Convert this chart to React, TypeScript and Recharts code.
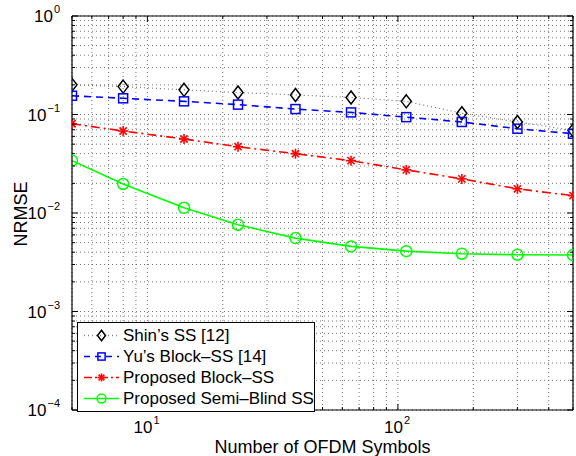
import React from 'react';
import { LineChart, Line, XAxis, YAxis, CartesianGrid, Legend } from 'recharts';

// number of OFDM symbols (x, log scale)
const symbols = [5, 8, 14, 23, 39, 65, 108, 180, 300, 500];

// NRMSE per method
const shinSS = [0.2, 0.192, 0.178, 0.167, 0.158, 0.149, 0.136, 0.103, 0.084, 0.069];
const yuBlockSS = [0.155, 0.146, 0.136, 0.126, 0.1135, 0.105, 0.094, 0.084, 0.0717, 0.0638];
const proposedBlockSS = [0.0806, 0.068, 0.0564, 0.0471, 0.04, 0.034, 0.0274, 0.0222, 0.0176, 0.015];
const proposedSemiBlind = [0.034, 0.0197, 0.0113, 0.0076, 0.00556, 0.00458, 0.0041, 0.00386, 0.00377, 0.00374];

// axis ticks (majors get a label, every tick gets a grid line)
const xTicks = [5, 6, 7, 8, 9, 10, 20, 30, 40, 50, 60, 70, 80, 90, 100, 200, 300, 400, 500];
const xMajor = [10, 100];
const yTicks = [
  0.0001, 0.0002, 0.0003, 0.0004, 0.0005, 0.0006, 0.0007, 0.0008, 0.0009,
  0.001, 0.002, 0.003, 0.004, 0.005, 0.006, 0.007, 0.008, 0.009,
  0.01, 0.02, 0.03, 0.04, 0.05, 0.06, 0.07, 0.08, 0.09,
  0.1, 0.2, 0.3, 0.4, 0.5, 0.6, 0.7, 0.8, 0.9, 1,
];
const yMajor = [0.0001, 0.001, 0.01, 0.1, 1];

const seriesNames = ['Shin’s SS [12]', 'Yu’s Block–SS [14]', 'Proposed Block–SS', 'Proposed Semi–Blind SS'];

const data = symbols.map((n, i) => ({
  n,
  shin: shinSS[i],
  yu: yuBlockSS[i],
  block: proposedBlockSS[i],
  semi: proposedSemiBlind[i],
}));

const FONT = '"Liberation Sans", Arial, Helvetica, sans-serif';

const isMajor = (list: number[], v: number) => list.some((m) => Math.abs(m - v) / m < 1e-6);
const expOf = (v: number) => Math.round(Math.log10(v));

// markers
const Diamond = ({ cx, cy, s = 1 }: any) => (
  <path d={`M${cx},${cy - 6.5 * s} L${cx + 5 * s},${cy} L${cx},${cy + 6.5 * s} L${cx - 5 * s},${cy} Z`} fill="none" stroke="#000" strokeWidth={1.5} />
);
const Square = ({ cx, cy, s = 1 }: any) => (
  <rect x={cx - 4.5 * s} y={cy - 4.5 * s} width={9 * s} height={9 * s} fill="none" stroke="#0000ff" strokeWidth={1.5} />
);
const Star = ({ cx, cy, s = 1 }: any) => {
  const r = 5 * s;
  const d = r * 0.72;
  return (
    <g stroke="#ff0000" strokeWidth={1.6}>
      <line x1={cx - r} y1={cy} x2={cx + r} y2={cy} />
      <line x1={cx} y1={cy - r} x2={cx} y2={cy + r} />
      <line x1={cx - d} y1={cy - d} x2={cx + d} y2={cy + d} />
      <line x1={cx - d} y1={cy + d} x2={cx + d} y2={cy - d} />
    </g>
  );
};
const Circle = ({ cx, cy, s = 1 }: any) => (
  <circle cx={cx} cy={cy} r={5.5 * s} fill="none" stroke="#00ff00" strokeWidth={1.5} />
);

const XTick = ({ x, y, payload, top }: any) => {
  const major = isMajor(xMajor, payload.value);
  const len = major ? 6 : 3;
  if (top) {
    return <line x1={x} y1={y} x2={x} y2={y + len} stroke="#000" />;
  }
  return (
    <g>
      <line x1={x} y1={y} x2={x} y2={y - len} stroke="#000" />
      {major && (
        <g fontFamily={FONT} fill="#000">
          <text x={x + 5} y={y + 23} textAnchor="end" fontSize={17}>10</text>
          <text x={x + 6} y={y + 14} textAnchor="start" fontSize={11}>{expOf(payload.value)}</text>
        </g>
      )}
    </g>
  );
};

const YTick = ({ x, y, payload, right }: any) => {
  const major = isMajor(yMajor, payload.value);
  const len = major ? 6 : 3;
  if (right) {
    return <line x1={x} y1={y} x2={x - len} y2={y} stroke="#000" />;
  }
  const e = expOf(payload.value);
  return (
    <g>
      <line x1={x} y1={y} x2={x + len} y2={y} stroke="#000" />
      {major && (
        <text x={x - 12} y={y + 6} textAnchor="end" fontSize={17} fontFamily={FONT} fill="#000">
          <tspan>10</tspan>
          <tspan dx={1} dy={-9} fontSize={11}>{e === 0 ? '0' : `−${-e}`}</tspan>
        </text>
      )}
    </g>
  );
};

const legendRows = [
  { name: seriesNames[0], color: '#888', dash: '1 3', Marker: Diamond },
  { name: seriesNames[1], color: '#0000ff', dash: '6 5', Marker: Square },
  { name: seriesNames[2], color: '#ff0000', dash: '8 3 2 3', Marker: Star },
  { name: seriesNames[3], color: '#00ff00', dash: undefined, Marker: Circle },
];

const LegendBox = () => (
  <div
    style={{
      width: 238,
      border: '1px solid #000',
      background: '#fff',
      padding: '2px 0',
      fontFamily: FONT,
      fontSize: 17,
      color: '#000',
      boxSizing: 'border-box',
    }}
  >
    {legendRows.map((r) => (
      <div key={r.name} style={{ display: 'flex', alignItems: 'center', height: 21 }}>
        <svg width={45} height={21} style={{ flex: 'none' }}>
          <line x1={6} y1={10.5} x2={41} y2={10.5} stroke={r.color} strokeWidth={1.5} strokeDasharray={r.dash} />
          <r.Marker cx={23.5} cy={10.5} s={0.8} />
        </svg>
        <span style={{ whiteSpace: 'nowrap' }}>{r.name}</span>
      </div>
    ))}
  </div>
);

const axisCommon = {
  type: 'number' as const,
  scale: 'log' as const,
  allowDataOverflow: true,
  interval: 0 as const,
  tickSize: 0,
  tickMargin: 0,
  tickLine: false,
  axisLine: { stroke: '#000', strokeWidth: 1.2 },
};

export default function App() {
  return (
    <div style={{ position: 'absolute', left: 0, top: 0, width: 576, height: 456, background: '#fff' }}>
      <LineChart width={576} height={456} data={data} margin={{ top: 15, right: 2, left: 71, bottom: 45 }}>
        <CartesianGrid xAxisId="b" yAxisId="l" stroke="#555" strokeDasharray="1 3" strokeWidth={0.8} />
        <XAxis xAxisId="b" dataKey="n" domain={[5, 500]} ticks={xTicks} height={1} tick={<XTick />} {...axisCommon} />
        <XAxis xAxisId="t" orientation="top" dataKey="n" domain={[5, 500]} ticks={xTicks} height={1} tick={<XTick top />} {...axisCommon} />
        <YAxis yAxisId="l" domain={[0.0001, 1]} ticks={yTicks} width={1} tick={<YTick />} {...axisCommon} />
        <YAxis yAxisId="r" orientation="right" domain={[0.0001, 1]} ticks={yTicks} width={1} tick={<YTick right />} {...axisCommon} />
        <Line xAxisId="b" yAxisId="l" type="linear" dataKey="shin" name={seriesNames[0]} stroke="#777" strokeWidth={1.2} strokeDasharray="1 3"
          dot={(p: any) => <Diamond key={`d${p.index}`} cx={p.cx} cy={p.cy} />} isAnimationActive={false} />
        <Line xAxisId="b" yAxisId="l" type="linear" dataKey="yu" name={seriesNames[1]} stroke="#0000ff" strokeWidth={1.6} strokeDasharray="7 5"
          dot={(p: any) => <Square key={`s${p.index}`} cx={p.cx} cy={p.cy} />} isAnimationActive={false} />
        <Line xAxisId="b" yAxisId="l" type="linear" dataKey="block" name={seriesNames[2]} stroke="#ff0000" strokeWidth={1.6} strokeDasharray="9 4 2 4"
          dot={(p: any) => <Star key={`a${p.index}`} cx={p.cx} cy={p.cy} />} isAnimationActive={false} />
        <Line xAxisId="b" yAxisId="l" type="linear" dataKey="semi" name={seriesNames[3]} stroke="#00ff00" strokeWidth={1.6}
          dot={(p: any) => <Circle key={`c${p.index}`} cx={p.cx} cy={p.cy} />} isAnimationActive={false} />
        <Legend
          layout="vertical"
          align="center"
          verticalAlign="middle"
          content={<LegendBox />}
          wrapperStyle={{ left: 77, top: 322, width: 238 }}
        />
      </LineChart>
      <div
        style={{
          position: 'absolute',
          left: 72,
          width: 501,
          top: 438,
          lineHeight: '18px',
          textAlign: 'center',
          fontFamily: FONT,
          fontSize: 18,
          color: '#000',
        }}
      >
        Number of OFDM Symbols
      </div>
      <div
        style={{
          position: 'absolute',
          left: 21,
          top: 214,
          transform: 'translate(-50%, -50%) rotate(-90deg)',
          fontFamily: FONT,
          fontSize: 18,
          color: '#000',
          whiteSpace: 'nowrap',
        }}
      >
        NRMSE
      </div>
    </div>
  );
}
